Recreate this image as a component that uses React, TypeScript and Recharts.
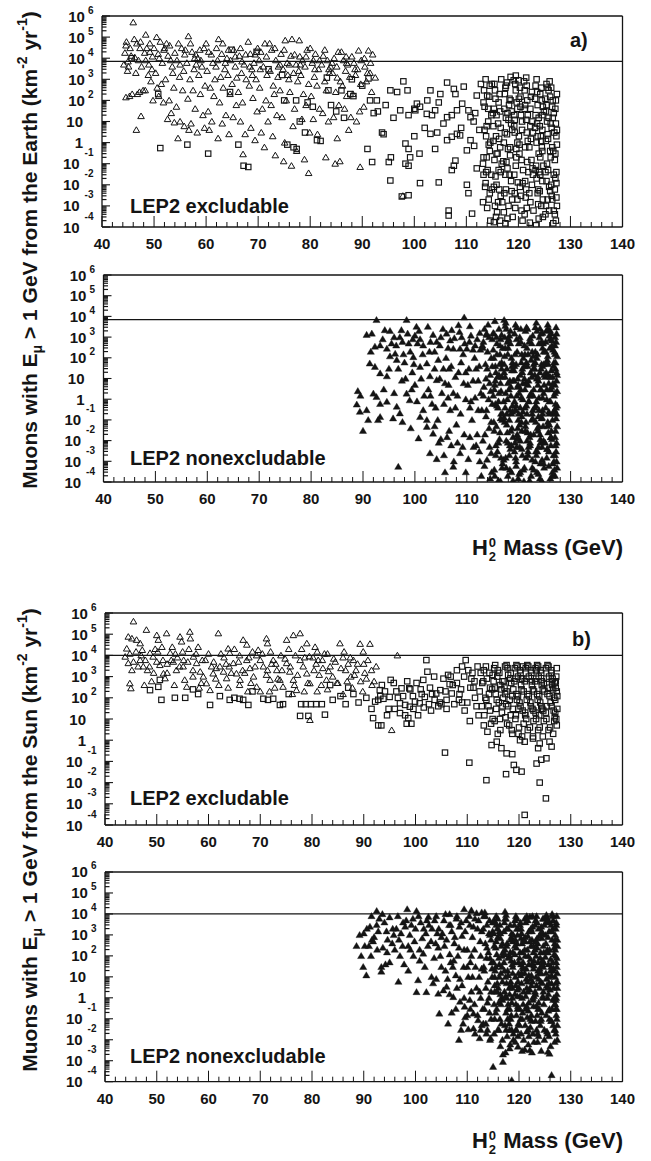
import React from 'react';
import { ScatterChart, Scatter, XAxis, YAxis, ReferenceLine } from 'recharts';

type Pt = [number, number];

const INK = '#141414';
const FONT = '"Liberation Sans", Arial, Helvetica, sans-serif';

const massTicks = [40,42,44,46,48,50,52,54,56,58,60,62,64,66,68,70,72,74,76,78,80,82,84,86,88,90,92,94,96,98,100,102,104,106,108,110,112,114,116,118,120,122,124,126,128,130,132,134,136,138,140];
const massLabels = [40,50,60,70,80,90,100,110,120,130,140];
const fluxDecades = [1e-4,1e-3,1e-2,1e-1,1,10,100,1e3,1e4,1e5,1e6];
const minorMantissas = [2,3,4,5,6,7,8,9];
const earthThreshold = 7e3;
const sunThreshold = 1e4;

// Panel a, upper: LEP2 excludable (Earth)
const earthExclTriangles: Pt[] = [
[46,5e5],[44.7,6e4],[44.6,4e4],[44.2,5e3],[45,7e3],[45.6,1.3e4],[44.9,2.5e3],[45.3,1.6e2],[44.6,1.4e2],[45.8,2e2],[45.1,4e3],
[46.7,5e4],[47.4,6e4],[46.3,1.1e4],[47,8e3],[47.6,4e3],[46.5,2e3],[47.2,2.5e2],[46.8,2e2],[47.5,1.8e1],[46.6,4e0],[48.4,1.3e5],[47.9,3e2],
[48.6,3e4],[49.2,2e4],[48.4,8e3],[49.6,3e3],[48.9,1.6e3],[49.4,8e2],[48.3,3e2],[49.8,1e2],[49,5e3],[49.7,1.2e4],
[50.5,1e5],[51.2,6e4],[50.8,1.6e4],[51.6,6e3],[50.3,2e3],[51.4,6e2],[50.9,1.6e2],[51.8,8e1],[50.6,4e2],[51.9,2.5e4],
[52.4,5e4],[53,4e4],[52.7,1.3e4],[53.5,4e3],[52.2,1e3],[53.8,4e2],[52.9,1e2],[53.3,2.5e1],[52.6,1.3e1],[53.9,9e0],[53.6,2e3],
[54.7,5e4],[55.3,3e4],[54.4,8e3],[55.7,2.5e3],[54.9,1.3e3],[55.5,3e2],[54.3,5e1],[55,1e1],[55.8,6e0],[54.6,1.6e0],[55.9,1.5e4],
[56.6,1.1e5],[57.3,2e4],[56.3,6e3],[57.7,3e3],[56.9,1e3],[57.5,3e2],[56.5,1.2e2],[57.9,4e1],[57.1,8e0],[56.7,4e0],[57.8,1e4],
[58.8,2.5e4],[59.6,3e4],[58.4,1e4],[59.2,4e3],[58.6,1.6e3],[59.8,5e2],[58.9,2e2],[59.4,2e1],[58.3,3e0],[59.7,5e0],[58.1,5e3],
[60.5,2e4],[61.3,6e3],[60.2,2.5e3],[61.7,1e3],[60.8,4e2],[61.5,1.6e2],[60.4,3e1],[61.1,1e1],[60.6,4e0],[61.9,4e3],
[62.4,8e4],[63,1.6e4],[62.2,8e3],[63.6,3e3],[62.8,1.3e3],[63.3,4e2],[62.6,8e1],[63.8,2e1],[63.1,8e0],[62.3,1.6e0],[63.7,6e3],
[64.3,2.5e4],[65.3,2.5e4],[64.7,8e3],[65.6,4e3],[64.2,1.6e3],[65,6e2],[64.6,2e2],[65.8,6e1],[65.2,1.6e1],[64.4,2.5e0],[65.9,1.2e3],
[66.4,1.3e4],[67.3,5e3],[66.8,2e3],[67.7,1e3],[66.2,2.5e2],[67,8e1],[66.6,1e1],[67.5,2.5e0],[67.1,2.8e-1],[68.1,6e4],[66.9,7e3],
[68.5,1.6e4],[69.2,6e3],[68.8,3e3],[69.6,1e3],[68.3,5e2],[69,1.3e2],[69.8,3e1],[68.6,5e0],[69.4,1.3e0],[69.9,3e4],[68.9,1.6e3],
[71.3,5e4],[70.5,2e4],[71,4e3],[71.7,1.6e3],[70.3,4e2],[71.5,1e2],[70.8,4e1],[71.9,1e1],[70.6,3e0],[71.2,6e-1],[70.2,8e3],
[72.6,2.5e4],[73.4,8e3],[72.3,2.5e3],[73.8,1.3e3],[72.9,5e2],[73.1,2e2],[72.5,6e1],[73.6,2e1],[72.8,2e0],[73.3,2.5e-1],[73.9,4e3],
[75.2,7e4],[74.4,1.6e4],[75.6,6e3],[74.8,3e3],[75.9,1e3],[74.2,3e2],[75.4,1e2],[74.6,1.6e1],[75.1,1e0],[74.9,1.3e-1],[75.7,1.6e3],
[76.5,8e4],[77.9,7e4],[76.3,1.3e4],[77.3,5e3],[76.8,2e3],[77.6,8e2],[76.1,2.5e2],[77,4e1],[76.7,6e0],[77.4,4e-1],[76.4,8e-2],[77.8,2.5e3],
[79.4,2.5e4],[78.5,8e3],[79,4e3],[78.2,1.6e3],[79.7,6e2],[78.7,2e2],[79.2,6e1],[78.4,1.3e1],[79.9,3e0],[78.9,1.6e-1],[79.7,3.6e-2],[78.1,5e3],
[81,1.6e4],[80.4,6e3],[81.6,3e3],[80.8,1.3e3],[81.3,5e2],[80.2,1.6e2],[81.8,4e1],[80.6,1.3e1],[81.4,2.5e0],[80.9,3e3],
[82.5,1.3e4],[83.3,8e3],[82.2,5e3],[83.7,2e3],[82.8,8e2],[83.1,3e2],[82.4,2.5e1],[83.5,1e1],[83,2e-1],[83.9,4e3],
[85.4,2e4],[84.6,1e4],[85.1,4e3],[84.3,2e3],[85.8,8e2],[84.9,2.5e2],[85.5,6e1],[84.5,1.6e1],[85.2,1.6e0],[84.8,1e-1],[85.7,1.3e-1],
[86.4,8e3],[87.2,5e3],[86.8,2.5e3],[87.6,1.3e3],[86.2,5e2],[87,1.6e2],[86.6,4e1],[87.8,1.6e1],[87.4,4e0],[86.9,1.2e4],
[89.3,2.3e4],[88.4,6e3],[89.1,3e3],[88.7,1.6e3],[89.7,6e2],[88.2,2e2],[89.5,3e1],[88.9,1e1],[89.6,7e-2],[88.6,3e3],
[91.2,2.3e4],[90.5,4e3],[91.5,2e3],[90.8,8e2],[91.8,2.5e2],[90.3,5e1],[91,2e3],[92.5,1.2e3],[97.8,3e-3],
[44.4,1.8e4],[45.4,3e4],[46.2,8e4],[47.3,3e4],[48.2,1.8e4],[49.2,5e4],[50,3e4],[51,1e4],[52,3e4],[53.2,8e3],[54,1.8e4],[55,5e3],[56,2.5e4],[57,5e4],[58,1.5e4],[59,8e3],[60,5e4],[61,1.5e4],[62,3e4],[63.2,5e4],[64,1e4],[65.6,1.2e4],[66.6,3e4],[67.6,1.5e4],[68.4,4e3],[69.4,1.5e4],[70.4,3e3],[71.6,1.2e4],[72.2,5e4],[73.2,3e4],[74.2,5e3],[75,2.5e4],[76,5e3],[77,1.5e4],[78,1.2e4],[79.2,1.2e4],[80,3e4],[80.6,8e3],[81.8,8e3],[82.8,2.5e4],[83.6,3e3],[84.2,6e3],[85.2,1.2e3],[86,2e4],[87,6e3],[88,1.2e4],[89.8,8e3],[90.4,1e4],[91.6,6e3],[92,1.5e4]
];

const earthExclSquares: Pt[] = [
[45.7,1e4],[50.8,2e2],[51.2,5.5e-1],[56.4,8e-1],[60.4,3e-1],[66.2,8e-1],[67.2,8e-2],[68.1,7e-2],[64.6,2.5e2],[64.9,2.5e4],[69.7,2e4],[72,3e3],[74.6,1.6e3],[75,1e2],[77.3,1e2],[79.5,8e1],[78,1e1],[79,3e0],[75.6,8e-1],[76.8,6e-1],[77.4,5e-1],[81.3,1.3e0],[82,1.2e0],[83.2,1.2e3],[87.7,2e2],[88.3,1.6e2],[85,3e1],[86.5,1.5e1],[80.5,5e1],[84,6e1],[88,1e3],[90,5e2],[91.5,1e2],[92.8,1e2],[92.2,2.5e1],[93.8,3e0],[94.1,2.5e0],[91,5e-1],[91.9,1.2e-1],[83.5,3e2],[86,3e2],
[91.2,1.1e3],[95.4,3e2],[96.7,2.5e2],[98.7,3e2],[97.9,8e2],[103.1,3e2],[106.3,7e2],[107.6,3.5e2],[107.9,2e2],[109.5,4.5e2],[112,1.7e2],[114,1.7e2],
[97.3,3.4e1],[98.9,2e1],[100.2,3.4e1],[101.1,5e1],[100.5,7e1],[102.4,2.3e1],[103.4,2e1],[104,3.4e1],[104.7,8e1],[105.6,8e0],[106.3,1.6e1],[107.2,2e1],[108.2,3.4e1],[109.2,7e1],[110.4,3.4e1],[110.8,1.6e1],[111.4,1e1],[111.7,2.5e1],
[103.1,2.6e0],[104.4,3e0],[106.3,1.3e0],[107.2,1.9e0],[108.2,2.6e0],[108.8,2.2e0],[110.1,4.3e-1],[110.8,1.3e0],[111.5,7e-1],
[98.3,9e-1],[98.9,5e-1],[99.2,2e-1],[98.3,1e-1],[98.9,8e-2],[95.1,1.2e-1],[95.5,2e-1],[95.4,1.6e-2],[101.1,1.2e-2],[97.6,2.8e-3],[98.9,3.2e-3],[104.7,1.3e-2],[106.6,6e-4],[106.6,3.5e-4],[111.1,4.3e-4],[110.1,1e-2],[110.4,4e-3],[107.2,5e-2],[107.6,8e-2],[107.9,1.4e-1],[112,6e-2],[113.3,3e-2],[100,2e0],[102,5e0],[96,1.5e1],[94.5,6e1],[93,3e1],[105,2e2],[102.5,1e2],[109,5e0],[112.5,4e0],[112.8,6e2],[104,5e-1],[101,3e-1],[100,4e1],
[114.6,2e-4],[115.3,1.7e-4],[114,8e-4],[114.3,2e-3],[113.5,5e1],[114.2,1e1],[113.8,2e0],[114.5,4e-1],[113.2,1e-1],[114.8,3e-2],[113.6,8e-3],[114.9,6e2],[114.4,1.5e2],
[115.5,3e2],[116.2,8e1],[115.8,2e1],[116.6,5e0],[115.2,1.2e0],[116,3e-1],[116.8,1e-1],[115.6,2.5e-2],[116.3,6e-3],[116.9,1.5e-3],[115.9,5e-4],[116.5,2e-4],[115.1,2.5e1],[116.7,1e3],
[117.8,7e2],[118.5,1.3e3],[117.4,2e2],[118.2,6e1],[117.6,1.5e1],[118.8,4e0],[117.2,1e0],[118.4,2.5e-1],[117.9,6e-2],[118.6,1.5e-2],[117.3,4e-3],[118.1,1e-3],[118.9,3e-4],[117.5,1.5e-4],[118.7,3e1],[117.1,1.3e-1],
[119.1,9e2],[120,9e2],[119.5,3e2],[120.4,1.5e2],[119.8,4e1],[120.7,1e1],[119.3,3e0],[120.2,8e-1],[119.6,2e-1],[120.9,5e-2],[119.9,1.3e-2],[120.5,3e-3],[119.4,8e-4],[120.8,2e-4],[120.1,1.2e2],[119.2,6e0],
[121.2,3e2],[121.7,1e2],[122.3,4e1],[121.5,1.2e1],[122.8,3e0],[121.3,6e-1],[122.5,1.5e-1],[121.9,4e-2],[122.6,1e-2],[121.4,2.5e-3],[122.9,6e-4],[122.2,1.6e-4],[121.8,2e1],[122.4,1.5e0],[121.1,8e2],
[123.3,5e2],[124.2,2e2],[123.7,6e1],[124.6,2e1],[123.2,5e0],[124.4,1.2e0],[123.9,3e-1],[124.8,8e-2],[123.5,2e-2],[124.1,5e-3],[123.8,1.2e-3],[124.7,3e-4],[123.4,1.2e-4],[124.9,3e1],[123.6,8e0],[124.3,2e0],[124,4e-2],[124.5,6e-1],
[126,8e2],[125.8,3e2],[126.1,1.5e2],[125.4,6e1],[126.8,2.5e1],[127.2,8e0],[125.6,2.5e0],[126.5,6e-1],[127,1.5e-1],[125.2,4e-2],[126.3,1e-2],[127.3,2.5e-3],[125.9,6e-4],[126.7,1.5e-4],[127.1,4e1],[125.5,1e1],[126.9,3e0],[127.4,8e-1],[126.2,2e-1],[125.7,5e-2],[127.3,1.2e-2],[126.4,3e-3],[125.3,1e-3],[127,4e-4],[126.6,1.5e1],[127.4,2e2],
[113.4,3e2],[114.2,4e1],[113.9,6e0],[114.6,1e0],[113.3,2e-1],[114.1,5e-2],[113.7,1.2e-2],[114.5,4e-3],[113.9,2e-1],
[115.4,6e2],[116.4,2e2],[115.3,4e1],[116.1,8e0],[115.7,2e0],[116.5,6e-1],[115.4,1.5e-1],[116.2,5e-2],[115.8,1e-2],[116.6,3e-3],[115.5,1e-3],
[117.5,4e2],[118.3,1.2e2],[117.9,2.5e1],[118.6,8e0],[117.4,3e0],[118,5e-1],[117.7,1.2e-1],[118.3,3e-2],[117.6,6e-3],[118.8,2e-3],[117.2,5e-4],
[119.4,6e2],[120.3,4e2],[119.7,8e1],[120.5,2e1],[119.3,1.2e1],[120.1,2e0],[119.6,5e-1],[120.6,1.5e-1],[119.2,3e-2],[120.3,8e-3],[119.8,2e-3],[120.6,6e-4],
[121.6,5e2],[122.4,1.5e2],[121.3,6e1],[122.7,1e1],[121.6,3e0],[122.1,6e-1],[121.7,1.2e-1],[122.8,3e-2],[121.5,6e-3],[122.3,1.5e-3],[121.2,4e-4],
[123.5,1e3],[124.4,4e2],[123.2,1.2e2],[124.7,5e1],[123.9,1.5e1],[124.6,4e0],[123.5,1e0],[124.2,2e-1],[123.3,5e-2],[124.6,1.5e-2],[123.7,4e-3],[124.4,1e-3],[123.9,2.5e-4],
[125.4,6e2],[126.3,4e2],[125.2,1.2e2],[126.5,5e1],[125.8,1.5e1],[126.4,5e0],[125.3,1.2e0],[126.1,4e-1],[125.5,1e-1],[126.8,3e-2],[125.9,8e-3],[126.5,2e-3],[125.2,4e-4],[127.2,1e2],[127.4,4e0],[127.1,3e-1],[127.3,4e-2],[127,6e-3],[127.4,1e-3],[127.2,2e-4],
[113.7,1e3],[114.5,5e2],[113.3,8e1],[114.8,2e1],[113.5,4e0],[114.3,8e-1],[113.8,4e-2],[114.9,6e-3],[113.2,1.5e-3],
[115.6,1.2e2],[116.5,3e1],[115.2,6e0],[116.3,1.5e0],[115.8,3e-1],[116.6,4e-2],[115.3,8e-3],[116.1,1.5e-3],[115.7,3e-4],
[117.6,5e2],[118.5,1e2],[117.3,4e1],[118.1,1.2e1],[117.8,2.5e0],[118.4,6e-1],[117.5,3e-2],[118.7,5e-3],[117.9,2.5e-4],
[119.5,1.5e3],[120.4,5e1],[119.2,2e1],[120.7,4e0],[119.8,1e0],[120.2,3e-1],[119.5,8e-2],[120.8,1.2e-2],[119.3,4e-3],
[121.5,1.2e3],[122.6,2.5e2],[121.2,4e1],[122.3,6e0],[121.8,1.2e0],[122.7,6e-2],[121.3,1.5e-2],[122.1,4e-3],[121.6,8e-4],
[123.6,2.5e2],[124.5,1e2],[123.3,2e1],[124.1,6e0],[123.7,2e0],[124.6,4e-1],[123.4,8e-2],[124.2,3e-2],[123.8,6e-3],[124.7,2e-3],
[125.6,4e2],[126.6,1e2],[125.3,3e1],[126.2,8e0],[125.7,1.5e0],[126.7,4e-1],[125.4,1.5e-2],[126.1,5e-3],[125.6,2e-3],[126.8,6e-4],[127.3,2e0],[127.1,2e-2]
];

// Panel a, lower: LEP2 nonexcludable (Earth)
const earthNonTriangles: Pt[] = [
[92.6,6.8e3],[98.4,6.8e3],[109.5,9e3],[117.2,6.8e3],[117.4,3.5e3],[124.1,2.6e3],[124.6,1.6e3],[126,2.2e3],[127,1e3],
[90.7,1.3e3],[91.7,1.5e3],[94.2,2.2e3],[97.1,1e3],[97.4,2.2e3],[100.3,3.2e3],[102.5,3.2e3],[106.1,1.5e3],[107.1,2.2e3],[108.4,3.8e3],[110.6,3.4e3],[112.5,1.6e3],[113.8,1.3e3],[115.1,1.6e3],[116.7,1.3e3],
[107.4,2.8e2],[108.7,2.8e2],[110,2.8e2],[111.2,2.5e2],[92.3,3.5e2],[93.3,4e2],[94.6,2.8e2],
[91.3,5.4e1],[92.3,3.7e1],[93.3,1.8e1],[94.6,1.3e1],[96.2,1.6e2],[96.5,8e1],[99.1,2e2],[99.7,1.1e2],[101,3.7e1],[102.3,5.4e1],[102.9,1.3e1],[104.2,8.5e0],
[92,1.9e0],[92.6,1.3e0],[93.3,6e-1],[94.6,7.6e-1],[96.5,4.4e-1],[97.1,2.1e-1],[88.8,5.6e-1],[89.4,2.5e-1],[90.7,3e-1],[91,1e-1],[90,3e-2],[93.3,1.4e-1],[92.9,1e-1],[98.4,1.9e0],[99,9e-1],[101,1.4e-1],[102.3,1e-1],[100.7,1.3e-2],[102.3,4.7e-2],[103.5,2.2e-2],[96.8,5.5e-4],[102.9,2.5e-3],[104.2,1.3e-3],[107.4,5.5e-4],[108.7,2.5e-3],[110.3,1.3e-3],[111.3,5e-3],
[95.5,5e2],[96,1e3],[98,6e1],[99.5,2e1],[100.5,5e2],[101.5,1.5e2],[103,6e2],[103.8,2e2],[104.5,8e1],[105,1e3],[105.5,3e1],[106,1e2],[106.5,5e0],[107,4e1],[107.8,1.2e1],[108.2,1.5e0],[108.9,6e1],[109.3,1.5e2],[109.8,2e1],[110.2,5e0],[110.8,8e-1],[111.5,1e2],[111.8,3e1],[112.2,8e0],[112.7,2e0],[112.9,3e-1],[105.2,2e0],[104,4e-1],[106.8,3e-1],[108,6e-2],[109.5,2e-2],[111,1e-1],[112,2e-2],[100,5e0],[101.8,1.5e0],[103.3,6e-1],[95,3e1],[97.5,8e0],[99.4,3e0],[94,3e0],[96,2e0],[97.8,1.5e2],[100,1.2e3],[101,8e2],[98.8,5e2],[103.5,1.3e3],[104.8,4e2],[106.8,7e2],[109,1e3],[110.5,6e2],[112,8e2],[113,4e2],[93.8,8e2],[95.2,1.2e2],[91.5,2e2],[89.5,1.5e0],[89,2.5e0],[104.6,8e-3],[106.2,1.5e-2],[107.5,1e-3],[109.8,3e-4],[105.8,3e-4],[112.5,1e-3],[112.8,2e-4],
[95.2,2e3],[96.4,4e2],[97.6,6e2],[98.6,1.5e3],[99.6,8e2],[100.8,2e3],[101.6,4e2],[102.8,2e2],[104.2,6e2],[105.4,2.5e3],[106.4,3e2],[107.6,9e2],[108.6,1.8e3],[109.6,5e2],[110.8,1.2e3],[111.6,4e2],[112.6,2.5e2],[96.8,3e1],[98.2,1e1],[99.8,5e1],[101.2,1e1],[102.6,3e0],[103.8,3e1],[104.8,1e1],[105.8,6e0],[106.6,3e1],[107.4,2e0],[108.4,2e1],[109.4,6e0],[110.4,3e1],[111.2,8e0],[112.4,4e1],[100.4,8e-1],[101.6,3e-1],[103,1.5e0],[104.4,1e-1],[105.6,6e-1],[106.4,1.2e0],[107.8,4e-1],[108.8,2e-1],[109.8,1e0],[110.6,4e-1],[111.6,1.2e0],[112.2,3e-1],[103.8,5e-2],[105,1.2e-2],[106.6,3e-2],[108.2,8e-3],[109.2,5e-3],[110.6,1.5e-2],[111.8,6e-3],[112.4,3e-3],[107,6e-3],[105.6,2e-3],[99.2,4e-2],[97.6,8e-2],[95.8,1.2e-1],
[113.2,6e2],[114,2e2],[113.6,5e1],[114.5,1.5e1],[113.3,4e0],[114.2,1e0],[113.8,3e-1],[114.7,8e-2],[113.5,2e-2],[114.4,5e-3],[113.9,1.2e-3],[114.8,3e-4],[114.1,4e3],[114.9,8e2],[113.7,1e1],[114.6,2.5e0],
[115.2,1.5e3],[115.8,5e2],[116.4,1.5e2],[115.5,4e1],[116.8,1.2e1],[115.3,3e0],[116.1,8e-1],[116.6,2e-1],[115.7,5e-2],[116.3,1.2e-2],[115.9,3e-3],[116.9,8e-4],[115.4,2e-4],[116.2,2.5e3],[116.7,6e1],[115.6,2e1],[116.5,6e0],[115.1,1.5e0],[116,4e-1],[116.8,1e-1],
[117.3,1e3],[118,3e2],[118.6,1e2],[117.7,3e1],[118.3,8e0],[117.5,2e0],[118.8,5e-1],[117.2,1.3e-1],[118.5,3e-2],[117.9,8e-3],[118.2,2e-3],[117.6,5e-4],[118.9,1.2e-4],[118.4,2e3],[117.8,6e2],[118.7,4e1],[117.4,1.2e1],[118.1,3e0],[117.1,8e-1],[118.6,2e-1],[117.7,6e-2],[118.9,1.5e-2],
[119.2,1.5e3],[120,5e2],[120.6,1.5e2],[119.5,5e1],[120.3,1.5e1],[119.8,4e0],[120.8,1e0],[119.3,3e-1],[120.5,8e-2],[119.7,2e-2],[120.2,5e-3],[119.4,1.5e-3],[120.9,4e-4],[119.9,1.5e-4],[120.4,2.5e3],[119.6,8e2],[120.7,3e1],[119.1,8e0],[120.1,2e0],[119.5,5e-1],[120.6,1.5e-1],[119.8,4e-2],[120.3,1e-2],[119.2,3e-3],
[121.3,2e3],[122,6e2],[122.6,2e2],[121.5,6e1],[122.3,2e1],[121.8,5e0],[122.8,1.5e0],[121.2,4e-1],[122.5,1e-1],[121.7,2.5e-2],[122.2,6e-3],[121.4,1.5e-3],[122.9,4e-4],[122.1,1.2e-4],[122.7,1.2e3],[121.6,3e2],[122.4,8e1],[121.1,1e1],[122.9,3e0],[121.9,8e-1],[122.6,2e-1],[121.3,5e-2],[122.1,1.5e-2],[121.8,3e-3],
[123.2,3e3],[124,1e3],[124.6,3e2],[123.5,1e2],[124.3,3e1],[123.8,8e0],[124.8,2e0],[123.3,5e-1],[124.5,1.3e-1],[123.7,3e-2],[124.2,8e-3],[123.4,2e-3],[124.9,5e-4],[124.1,1.5e-4],[124.7,5e2],[123.6,1.5e2],[124.4,5e1],[123.1,1.5e1],[124.9,5e0],[123.9,1.2e0],[124.6,3e-1],[123.3,8e-2],[124.1,2e-2],[123.8,5e-3],[124.5,1.2e-3],[123.5,3e-4],
[125.3,2e3],[126,8e2],[126.6,2.5e2],[125.5,8e1],[126.3,2.5e1],[125.8,6e0],[126.8,1.5e0],[125.2,4e-1],[126.5,1e-1],[125.7,2.5e-2],[126.2,6e-3],[125.4,1.5e-3],[126.9,4e-4],[126.1,1.5e-4],[127.2,3e3],[127,4e2],[127.4,1.2e2],[127.1,3e1],[127.3,8e0],[127,2e0],[127.4,5e-1],[127.2,1.2e-1],[127.1,3e-2],[127.3,8e-3],[127,2e-3],[127.4,5e-4],[125.9,1.2e3],[126.4,4e2],[125.6,1.2e2],[126.7,4e1],[125.1,1.2e1],[126.2,3e0],[125.9,8e-1],[126.8,2e-1],[125.5,5e-2],[126.4,1.2e-2],[125.8,3e-3],[126.6,8e-4],
[116.5,1.1e-4],[121,1.1e-4],[124.5,1.1e-4],
[113.4,2.5e3],[114.3,1e3],[113.1,3e2],[114.7,1e2],[113.9,3e1],[114.4,6e0],[113.2,1.5e0],[114.9,6e-1],[113.7,1.5e-1],[114.3,4e-2],[113.1,1e-2],[114.7,2.5e-3],[113.4,6e-4],[114.5,1.5e-4],[113.8,1.5e3],[114.9,4e1],
[115.4,6e3],[116.5,8e2],[115.1,2.5e2],[116.3,5e1],[115.9,1.2e1],[116.6,2.5e0],[115.5,6e-1],[116.9,2e-1],[115.2,8e-2],[116.4,2.5e-2],[115.6,6e-3],[116.6,1.5e-3],[115.3,4e-4],[116.1,1.2e-4],[116.9,3e2],[115.8,1.5e2],[116.2,1.5e1],[115.4,5e0],
[117.5,5e3],[118.2,1.2e3],[117.9,1.5e2],[118.8,6e1],[117.2,2e1],[118.5,4e0],[117.8,1e0],[118.3,3e-1],[117.3,8e-2],[118.7,4e-2],[117.6,1e-2],[118.4,4e-3],[117.1,1.2e-3],[118.6,3e-4],[117.9,2e-4],[118.1,8e2],[117.4,3e2],[118.9,8e0],[117.7,2e-1],[118.3,6e-3],
[119.4,4e3],[120.2,1e3],[119.7,2e2],[120.5,6e1],[119.1,2.5e1],[120.8,6e0],[119.6,1.5e0],[120.3,4e-1],[119.9,1e-1],[120.6,3e-2],[119.3,8e-3],[120.7,2e-3],[119.5,6e-4],[120.1,2.5e-4],[120.9,1e2],[119.8,1e1],[120.4,3e0],[119.2,8e-1],[120,2e-1],[119.6,5e-3],
[121.5,3e3],[122.2,9e2],[121.1,4e2],[122.8,1.2e2],[121.7,4e1],[122.5,1.2e1],[121.2,3e0],[122,8e-1],[122.7,3e-1],[121.4,8e-2],[122.3,2e-2],[121.9,5e-3],[122.6,1.2e-3],[121.1,5e-4],[122.4,2e-4],[121.8,1.5e2],[122.9,5e1],[121.3,6e0],[122.1,1.5e0],[121.6,1e-2],
[123.4,5e3],[124.3,1.5e3],[123.9,5e2],[124.8,2e2],[123.2,6e1],[124.1,2e1],[123.7,5e0],[124.6,1.2e0],[123.1,4e-1],[124.4,1.2e-1],[123.6,4e-2],[124.8,1e-2],[123.3,3e-3],[124.2,8e-4],[123.8,2.5e-4],[124.6,4e1],[123.5,1e1],[124.2,3e0],[123.9,3e-1],[124.7,5e-2],[123.2,1e-3],
[125.6,4e3],[126.3,1.5e3],[125.2,6e2],[126.9,2e2],[125.7,5e1],[126.5,1.2e1],[125.4,3e0],[126.1,8e-1],[126.9,3e-1],[125.6,8e-2],[126.3,3e-2],[125.1,8e-3],[126.7,2e-3],[125.8,6e-4],[126.5,2e-4],[127.3,1.5e3],[127.1,6e1],[127.4,1.5e1],[127,5e0],[127.2,4e-1],[127.4,5e-2],[127.1,6e-3],[127.3,1e-3],[127,2e-4],[126,3e2],[125.3,2e1],[126.6,6e0],[125.9,2e-1],[126.2,1.5e-2],[125.5,4e-3],
[115.7,1e3],[116.4,4e2],[115.2,1e2],[116.7,3e1],[115.5,8e0],[116.2,2e0],[115.8,5e-1],[116.5,1.2e-1],[115.3,3e-2],[116.1,8e-3],[115.6,2e-3],[116.8,5e-4],
[117.6,2.5e3],[118.4,5e2],[117.3,1.2e2],[118.7,2.5e1],[117.9,6e0],[118.5,1.5e0],[117.4,4e-1],[118.2,1e-1],[117.8,2.5e-2],[118.6,6e-3],[117.5,1.5e-3],[118.3,4e-4],[117.2,5e1],[118.8,2.5e-1],
[119.6,3e3],[120.4,6e2],[119.3,1.5e2],[120.7,2e1],[119.9,5e0],[120.5,1.2e0],[119.4,3e-1],[120.2,6e-2],[119.8,1.5e-2],[120.6,4e-3],[119.5,1e-3],[120.3,3e-4],[119.2,4e1],[120.8,2.5e-1],[119.7,1.2e-2],
[121.7,2.5e3],[122.5,5e2],[121.2,1.5e2],[122.8,3e1],[121.9,8e0],[122.4,2e0],[121.5,5e-1],[122.7,1.2e-1],[121.3,3e-2],[122.2,8e-3],[121.8,2e-3],[122.6,5e-4],[121.1,4e1],[122.9,2e-2],[121.6,2e-1],
[123.5,2e3],[124.4,6e2],[123.2,2e2],[124.8,5e1],[123.7,1.2e1],[124.3,3e0],[123.4,8e-1],[124.6,2e-1],[123.9,5e-2],[124.2,1.2e-2],[123.6,3e-3],[124.8,8e-4],[123.1,3e1],[124.5,5e-3],[123.8,1.5e-1],[124.9,1.5e1],
[125.6,2.5e3],[126.4,7e2],[125.2,2e2],[126.8,6e1],[125.7,1.5e1],[126.3,4e0],[125.4,1e0],[126.7,2.5e-1],[125.9,6e-2],[126.2,1.5e-2],[125.5,4e-3],[126.8,1e-3],[127.2,6e2],[127,1.5e2],[127.3,2e1],[127.4,2.5e0],[127.1,6e-1],[127.3,2e-1],[127,1.5e-2],[127.2,3e-3],[126.5,3e-4],[125.3,6e1],[126.1,1.2e1],[125.8,2.5e-1]
];

// Panel b, upper: LEP2 excludable (Sun)
const sunExclTriangles: Pt[] = [
[45.5,4e5],[44.5,7.6e4],[45.2,6.3e4],[46.1,5.4e4],[46.8,3.7e4],[48,1.6e5],[50,9e4],[50.3,5.4e4],[51.9,1.1e5],[54.5,7.6e4],[54.8,4.5e4],[56.4,1.3e5],[56.5,6.3e4],[61.9,1.1e5],[63.8,2.1e4],[64.1,1.3e4],[66.7,5.4e4],[67.4,3.2e4],[71.2,6.3e4],[71.4,3.7e4],[75.1,5.4e4],[76.4,9e4],[77.7,1.1e5],[79,3.7e4],[80.6,2.5e4],[69.6,1.8e4],[69.3,1e4],
[44.2,2.1e4],[43.9,8.7e3],[44.5,4.3e3],[45.2,2e3],[44.8,4.8e2],[45,2.8e2],[46.8,6e3],[47.4,3e3],[48.7,1.3e4],[49.3,8.7e3],[50,5e3],[50.6,3.5e3],[51.3,1.4e3],[51.6,8.3e2],[52.6,1.3e4],[53.2,5e3],[53.8,2e3],[55.1,3e3],[55.4,7e2],[55.8,3.3e2],[57.1,8.7e3],[57.7,4.3e3],[58.4,1.7e3],[59,1e3],[59.6,4.8e2],[60.3,2.3e2],[60.9,1.4e3],[62.2,3e3],[62.9,1.7e3],[63.5,8.3e2],[64.8,4.3e3],[65.4,1.4e3],[66.1,7e2],[67.4,6e3],[68,2.5e3],[68.7,1e3],[69.3,3.3e2],[70.6,3e3],[71.2,1.2e3],[71.9,7e2],[72.5,6e3],[73.2,2e3],[73.8,7e2],[74.4,3.3e2],[75.1,4.3e3],[75.7,1.7e3],[76.4,7e2],[77,2.3e2],[77.7,6e3],[78.3,3e3],[79,1.4e3],[79.6,4.8e2],[80.2,8e3],[80.8,4e3],[81.4,1.2e3],[82.1,2.5e3],[82.8,7e2],
[46,1.5e4],[47,1e4],[48.2,2e3],[49,6e2],[49.7,2e4],[51,2.5e4],[52,4e3],[53,2.5e4],[54,8e3],[55,1.5e4],[56,5e3],[57,2e3],[58,2.5e4],[58.8,6e3],[60,1.2e4],[61,5e3],[61.5,2.5e3],[63,8e3],[64,3e3],[65,2e4],[66,1e4],[67,1.5e3],[68.5,1.5e4],[70,6e3],[72,1.5e4],[73,4e3],[74,1e4],[75.5,2e4],[76.8,1e4],[78,2e4],[79.5,9e3],[81,1.5e4],[82,6e3],[83,1.2e4],[83.5,3e3],[84,1e3],[84.5,5e3],[85.4,3.7e4],[86,8e3],[86.5,2e3],[87,4e3],[87.5,1e3],[88,6e3],[88.5,2e3],[89.3,3.5e4],[89.9,1.5e4],[90,4e3],[90.5,8e2],[91.2,3.5e4],[91.5,2e3],[92,6e2],[96.5,1e4],[95.4,3e0],[79.6,9e0],[62,4e2],[66,4e2],[70,2e2],[72.8,3e2],[78.5,2e2],[85,5e2],[87.8,3e2],[83,2.5e2],
[44.8,1.2e4],[45.5,5e3],[46.4,3e3],[47.2,1.8e4],[47.8,6e3],[48.6,3e3],[49.4,1.5e3],[50.2,1.5e4],[51.2,6e3],[52,1.5e3],[52.8,6e3],[53.6,1.2e4],[54.4,3e3],[55.2,6e3],[56.2,2e4],[57,1e3],[57.6,1.2e4],[58.6,5e2],[59.4,6e3],[60.6,3e3],[61.4,8e2],[62.4,1.2e4],[63.4,4e3],[64.4,1.5e3],[65.8,5e3],[66.6,2e3],[67.8,8e3],[68.2,5e2],[69,3e3],[70.4,1.2e4],[71.4,2e3],[72.2,4e3],[73.4,8e2],[74.2,2e3],[74.8,7e3],[75.8,3e3],[76.6,4e2],[77.2,1.2e3],[78.6,8e3],[79.2,5e2],[80.4,2e3],[81.2,6e3],[81.8,4e2],[82.4,1.2e4],[83.2,1.8e3],[84.2,7e3],[84.8,5e2],[85.6,2.5e3],[86.2,1.5e4],[86.8,6e2],[87.4,8e3],[88.2,1.2e3],[88.8,4e3],[89.4,6e2],[90.2,1.5e3],[90.8,6e3],[91.6,4e2],[92.4,3e3],[47.6,4e2],[53.4,4e2],[58.2,3e2],[63.8,3e2],[67.6,2e2],[71.8,2e2],[76.2,1.5e2],[81,2e2],[86,1.5e2],[89.8,2e2]
];

const sunExclSquares: Pt[] = [
[48.7,2.3e2],[50.9,8e1],[53.5,1e2],[55.5,1e2],[50.6,7e2],[50.3,3.3e2],[60.3,4.6e1],[62.2,1.2e2],[64.1,8e1],[65,1e2],[66,9e1],[66.7,8e1],[67.7,4.6e1],[70.6,9e1],[71.5,8e1],[72.5,9e1],[73.8,4.6e1],[74.4,5e1],[77.7,1.4e1],[79.3,1.4e1],[77.9,5e1],[78.8,5e1],[79.8,5e1],[80.8,5e1],[81.9,5e1],[82.5,1.6e1],[57,2.5e2],[58,1.5e2],[68.5,2e2],[75.5,1.5e2],[84,8e1],[85.5,1.2e2],[86.5,5e1],[88,1.5e2],[89,6e1],[90.5,1e2],[91.5,3e1],[83.5,4e2],[87,3e2],
[102.1,6e3],[109.7,6e3],[102.3,1.7e3],[95.2,7e2],[98.4,6e2],[98.8,2.8e2],[101.5,7e2],[106.3,1.2e3],[106.6,4.4e2],[93.1,2.3e2],[94.1,2e2],[95,1.1e2],[96.3,2e2],[97.3,2.8e2],[92.2,6.6e1],[92.8,8e1],[93.8,9e1],[97,5.5e1],[98,4.6e1],[98.9,3.8e1],[99.9,6.6e1],[100.8,5.5e1],[101.8,1.1e2],[102.6,5e1],[103.7,8e1],[104.7,6e1],[104,1.6e2],[104.8,2.3e2],[105.8,2e2],[107,1.6e2],[97,1.9e1],[98,1.5e1],[98.6,1.1e1],[91.8,1.1e1],[92.8,5e0],[93.4,5e0],[98.3,6e0],[99.2,6e0],[105.7,2.6e-1],[110.4,8.7e-2],[113.7,1.3e-2],[108,5e2],[108.5,1.5e2],[109,6e1],[109.5,2.5e1],[110.2,2e3],[110.8,8e2],[111.2,3e2],[111.5,1e2],[111.8,4e1],[112.2,1.5e1],[112.6,1.5e3],[112.9,5e2],[107.5,5e1],[106,3e1],[103,2.5e1],[100.5,1.5e1],[101,2.5e2],[99.5,1.2e2],[96,3e1],[94.5,1.5e1],[110.5,8e0],[109,3e3],[108,2e3],
[93.5,4e2],[95.8,5e2],[97.6,1.2e2],[99,2.5e2],[100.2,5e2],[101.2,1.5e2],[102.8,3e2],[103.6,1e3],[104.4,4e1],[105.4,8e2],[106,8e1],[107.2,4e2],[108.4,8e1],[109.4,1e3],[110.6,3e2],[111.4,6e2],[112.4,2e2],[112.8,4e1],[110,6e1],[108.8,2.5e2],[106.8,1e3],[105,5e1],[103.2,1.5e2],[101.6,3.5e1],[99.6,3e1],[96.6,1e2],[94.8,3e1],[93.2,1.2e2],[111,1.5e3],[112,3e3],
[114.7,5.9e-1],[115.7,8.5e-1],[116.6,4.2e-1],[117.6,2.4e-1],[118.7,2.2e-1],[119,6.8e-2],[119.5,4e-2],[120.5,3.3e-2],[117.5,2.5e-2],[120.2,1e0],[121.1,8.5e-1],[122.7,1.2e0],[124,7e-1],[123.7,4.2e-1],[125.9,8.5e-1],[126.3,5e-1],[123.4,7.9e-2],[124.3,1.2e-1],[125.3,1.4e-1],[124,1e-2],[125.2,1.8e-3],[121.1,3e-4],
[113.2,2e3],[113.8,8e2],[114.4,3e2],[113.5,1e2],[114.1,4e1],[113.3,1.5e1],[114.6,6e0],[113.9,2.5e0],[114.9,1.2e3],[114.2,1.5e2],
[115.2,2.5e3],[115.8,1e3],[116.4,4e2],[115.5,1.5e2],[116.1,6e1],[116.7,2e1],[115.3,8e0],[116.4,3e0],[115.9,2e3],[116.8,6e2],[115.6,3e1],[116.9,1e2],
[117.3,3e3],[117.9,1.2e3],[118.5,5e2],[117.6,2e2],[118.2,8e1],[118.8,3e1],[117.4,1.2e1],[118.1,5e0],[118.7,2e0],[117.8,2.5e3],[118.4,1.5e3],[117.1,6e2],[118.9,2.5e2],[117.5,5e1],
[119.2,2.5e3],[119.8,1e3],[120.4,4e2],[119.5,1.5e2],[120.1,6e1],[120.7,2.5e1],[119.3,1e1],[120,4e0],[120.6,1.5e0],[119.7,3e3],[120.3,1.5e3],[119.1,6e2],[120.9,2e2],[119.6,8e1],[120.8,3e3],[119.9,3e1],
[121.3,2.5e3],[121.9,1e3],[122.5,4e2],[121.6,1.5e2],[122.2,6e1],[122.8,2.5e1],[121.4,1e1],[122.1,4e0],[122.7,1.5e0],[121.8,3e3],[122.4,1.5e3],[121.1,6e2],[122.9,2e2],[121.5,8e1],[122.6,3e1],[121.2,1.5e1],
[123.2,2.5e3],[123.8,1e3],[124.4,4e2],[123.5,1.5e2],[124.1,6e1],[124.7,2.5e1],[123.3,1e1],[124,4e0],[124.6,1.5e0],[123.7,3e3],[124.3,1.5e3],[123.1,6e2],[124.9,2e2],[123.6,8e1],[124.5,3e1],[123.9,1.5e1],[124.8,5e2],[123.4,2e3],
[125.2,2.5e3],[125.8,1e3],[126.4,4e2],[125.5,1.5e2],[126.1,6e1],[126.7,2.5e1],[125.3,1e1],[126,4e0],[126.6,2e0],[125.7,3e3],[126.3,1.5e3],[127.1,6e2],[127.3,2e2],[127,8e1],[127.4,3e1],[126.9,1.2e1],[127.2,1e3],[126.5,8e2],[125.9,3e2],[126.8,1e2],[125.4,4e1],[127.3,5e0],
[113.6,3e3],[114.3,1.5e3],[113.1,6e2],[114.8,2.5e2],[113.7,8e1],[114.4,2.5e1],[113.2,5e0],[114.9,1e1],
[115.4,3.5e3],[116.2,1.5e3],[115.1,6e2],[116.6,2.5e2],[115.7,8e1],[116.3,1e1],[115.9,2e0],[116.8,4e1],[115.3,3e2],
[117.6,3.5e3],[118.3,8e2],[117.2,3e2],[118.7,1.2e2],[117.9,4e1],[118.4,1.5e1],[117.7,6e0],[118.6,3e0],[117.3,1.5e2],
[119.5,3.5e3],[120.2,2e3],[119.3,8e2],[120.5,2.5e2],[119.8,1.2e2],[120.3,4e1],[119.4,1.5e1],[120.9,6e0],[119.9,2e0],[120.6,8e2],
[121.6,3.5e3],[122.3,2e3],[121.4,8e2],[122.7,2.5e2],[121.9,1.2e2],[122.3,4e1],[121.2,2e1],[122.8,8e0],[121.7,3e0],[122.5,6e2],
[123.5,3.5e3],[124.2,2e3],[123.3,8e2],[124.6,2.5e2],[123.9,1.2e2],[124.3,4e1],[123.2,2e1],[124.8,8e0],[123.7,3e0],[124.4,6e2],
[125.5,3.5e3],[126.2,2e3],[125.3,8e2],[126.6,2.5e2],[125.9,1.2e2],[126.3,4e1],[125.2,2e1],[126.8,8e0],[125.7,3e0],[126.4,6e2],[127.3,2.5e3],[127.1,3e2],[127.4,1.2e2],[127,2e1],[127.2,1e1],[126.9,5e2]
];

// Panel b, lower: LEP2 nonexcludable (Sun)
const sunNonTriangles: Pt[] = [
[92.5,1.4e4],[91.5,8e3],[98.4,1.7e4],[100.2,1.4e4],[102.5,7.4e3],[103.7,5e3],[106.6,1e4],[107.9,6e3],[109.4,1.7e4],[110.8,1.5e4],[111.8,1.1e4],[117.3,1.3e4],[122.1,7.4e3],[125.3,9e3],[126.6,5e3],
[88.6,3e2],[89.9,3e1],[90.5,1.2e1],[93.4,3e1],[93.4,1.8e1],[96.7,5.9e0],[100.5,7e0],[100.2,1.9e0],[102.1,1.9e0],[104.4,1.6e0],[104.6,1.8e-1],[106.3,6e-2],[108.4,1e-2],[112.4,1.2e-2],[110.2,3.2e-2],[111.2,3.5e-2],[115,5.2e-4],[116.9,9e-4],[118.2,3.9e-3],[119.8,4.7e-3],[121.1,3.5e-3],[122.1,3.2e-3],[125.6,2.7e-3],[125.9,2.2e-3],[118.6,1.2e-4],[126.3,2.1e-4],
[91.2,2.5e3],[92.5,3e3],[94.4,1.5e3],[96.3,2e3],[97.6,4e3],[98.9,1e3],[91,3e2],[91.8,5e2],[93.7,2.5e2],[95.5,4e2],[97.5,3e2],[99,2e2],[100,2e3],[101.3,7e2],[102.6,3e3],[103.9,4e2],[105.2,1.2e3],[106.5,3e3],[100.8,6e1],[101.5,1.3e2],[103.1,1e1],[103.4,5e0],[105.4,2.3e0],[106,3.4e0],[107.3,1.1e0],[108.6,6.6e-1],[109.5,3.8e-1],[110.5,8e-1],[111.2,1.8e-1],[112.1,8.7e-2],[113.1,6e-2],[113.7,2e-2],[114.4,1e-2],
[90,1.2e3],[92,8e2],[93,6e3],[94,4e3],[95,7e3],[95.8,1e3],[96.8,6e2],[98,2.5e3],[99.5,6e3],[99.8,5e2],[101,4e3],[102,1.2e3],[104,8e3],[104.5,2e3],[105.5,5e3],[106,6e2],[107,1.5e3],[107.5,4e2],[108,8e3],[108.5,2.5e3],[109,9e2],[109.8,5e3],[110,2e2],[110.5,3e3],[111,8e2],[111.5,6e3],[112,2e3],[112.5,5e2],[112.8,1.2e4],[108.2,1e2],[109.3,3e1],[110.8,1e2],[111.6,3e1],[112.3,1e1],[106.8,5e1],[105.8,2e1],[104.8,1e2],[103,5e2],[97,1e2],[95,5e1],[94.5,1.5e2],[107.8,1.2e1],[109,4e0],[110.2,1e1],[111.8,3e0],[112.6,1e0],[113,3e-1],[110,1.5e-1],[108.8,3e-2],[107,2e-1],[109.6,1.2e-1],[111.5,2e-2],[112.8,5e-2],[105,3e1],
[90.6,2e3],[91.6,6e2],[92.8,1.5e3],[93.6,1e4],[94.6,6e2],[95.6,2e3],[96.6,8e3],[97.2,1.2e3],[98.2,5e3],[99.2,3e3],[100.6,8e3],[101.6,2e3],[102.2,5e3],[103.2,2e3],[104.2,1.2e3],[105,8e2],[105.8,1e4],[106.8,3e3],[107.6,8e2],[108.8,4e3],[109.6,1.5e3],[110.4,8e3],[111.2,2.5e3],[112.2,5e3],[112.8,1.5e3],[91.4,1e2],[92.6,2e2],[94.2,4e1],[96,2e2],[97.8,4e1],[98.6,3e2],[99.6,1e2],[100.8,2e2],[102.4,3e2],[103.6,8e1],[104.4,2.5e2],[105.6,3e2],[106.6,1.2e2],[107.4,6e1],[108.4,2.5e2],[109.4,2e2],[110.6,5e1],[111.4,2e2],[112.6,1e2],[98.6,2e1],[101.8,3e1],[104,8e0],[106.2,8e0],[107.2,3e1],[108.6,8e0],[110,3e1],[111,1e1],[112.8,2.5e1],[106.6,1.5e0],[108,3e0],[109.4,1e0],[110.8,2e0],[111.4,5e-1],[112.4,2e0],[107.8,3e-1],[109.2,6e-2],[110.6,3e-1],[112,1.5e-1],[112.6,3e-2],[89.5,1e2],[90.2,3e2],[89.2,1e3],
[113.2,8e3],[113.8,3e3],[114.4,1e3],[113.5,4e2],[114.1,1.5e2],[114.7,5e1],[113.3,2e1],[114,6e0],[114.6,2e0],[113.9,6e-1],[114.3,2e-1],[113.6,6e-2],[114.9,4e3],[114.2,1.2e3],[113.7,8e1],[114.8,2.5e1],
[115.2,5e3],[115.8,2e3],[116.4,7e2],[115.5,2.5e2],[116.1,8e1],[116.7,3e1],[115.3,1e1],[116,3e0],[116.6,1e0],[115.7,3e-1],[116.3,1e-1],[115.9,3e-2],[116.8,1e-2],[115.4,4e3],[116.2,1.5e3],[115.6,5e2],[116.9,1.5e2],[115.1,5e1],[116.5,1.5e1],[115.8,5e0],[116.4,1.5e0],[115.2,5e-1],
[117.3,6e3],[117.9,2e3],[118.5,8e2],[117.6,3e2],[118.2,1e2],[118.8,3e1],[117.4,1e1],[118.1,3e0],[118.7,1e0],[117.8,3e-1],[118.4,1e-1],[117.5,3e-2],[118.9,1e-2],[117.2,4e3],[118.6,1.2e3],[117.7,4e2],[118.3,1.5e2],[117.1,5e1],[118.8,1.5e1],[117.6,5e0],[118.2,1.5e0],[117.9,5e-1],[118.5,1.5e-1],[117.3,5e-2],[118.9,2e-2],
[119.2,5e3],[119.8,2e3],[120.4,7e2],[119.5,2.5e2],[120.1,8e1],[120.7,3e1],[119.3,1e1],[120,3e0],[120.6,1e0],[119.7,3e-1],[120.3,1e-1],[119.4,3e-2],[120.9,1e-2],[119.1,3e3],[120.5,1.2e3],[119.6,4e2],[120.2,1.5e2],[120.8,5e1],[119.9,1.5e1],[120.5,5e0],[119.2,1.5e0],[120.8,5e-1],[119.5,1.5e-1],[120.1,5e-2],[119.8,1.5e-2],
[121.3,4e3],[121.9,1.5e3],[122.5,6e2],[121.6,2e2],[122.2,7e1],[122.8,2.5e1],[121.4,8e0],[122.1,2.5e0],[122.7,8e-1],[121.8,2.5e-1],[122.4,8e-2],[121.5,2.5e-2],[122.9,8e-3],[121.1,6e3],[122.6,2.5e3],[121.7,9e2],[122.3,3e2],[121.2,1e2],[122.9,3.5e1],[121.9,1.2e1],[122.4,4e0],[121.3,1.2e0],[122.8,4e-1],[121.6,1.2e-1],[122.2,4e-2],[121.9,1.5e-2],
[123.2,5e3],[123.8,2e3],[124.4,7e2],[123.5,2.5e2],[124.1,8e1],[124.7,3e1],[123.3,1e1],[124,3e0],[124.6,1e0],[123.7,3e-1],[124.3,1e-1],[123.4,3e-2],[124.9,1e-2],[123.1,3e3],[124.5,1.2e3],[123.6,4e2],[124.2,1.5e2],[124.8,5e1],[123.9,1.5e1],[124.5,5e0],[123.2,1.5e0],[124.8,5e-1],[123.5,1.5e-1],[124.1,5e-2],[123.8,1.5e-2],[124.6,6e3],
[125.2,4e3],[125.8,1.5e3],[126.4,6e2],[125.5,2e2],[126.1,7e1],[126.7,2.5e1],[125.3,8e0],[126,2.5e0],[126.6,8e-1],[125.7,2.5e-1],[126.3,8e-2],[125.4,2.5e-2],[126.9,8e-3],[127.2,3e3],[127,1e3],[127.4,3e2],[127.1,1e2],[127.3,3e1],[127,1e1],[127.4,3e0],[127.2,1e0],[127.1,3e-1],[127.3,1e-1],[127,3e-2],[127.4,1e-2],[125.9,4e3],[126.5,2e3],[125.6,8e2],[126.8,2.5e2],[125.1,9e1],[126.2,3e1],[125.8,1e1],[126.7,3e0],[125.5,1e0],[126.4,3e-1],[125.9,1e-1],[126.8,3e-2],
[113.4,1.2e4],[114.3,5e3],[113.1,2e3],[114.6,6e2],[113.8,2.5e2],[114.4,8e1],[113.2,3e1],[114.8,1e1],[113.6,3e0],[114.2,1e0],[113.3,3e-1],[114.6,1e-1],[113.9,3e-2],[114.5,1.2e-2],[113.5,8e3],[114.9,1.5e3],
[115.6,8e3],[116.3,3e3],[115.1,1.2e3],[116.8,4e2],[115.7,1.2e2],[116.2,4e1],[115.4,2e1],[116.8,6e0],[115.3,2e0],[116.1,6e-1],[115.5,2e-1],[116.6,6e-2],[115.2,2e-2],[116.4,5e-3],[116.9,2e-3],[115.9,8e2],[116.6,3e2],[115.3,4e0],
[117.5,9e3],[118.3,3e3],[117.1,1.5e3],[118.8,5e2],[117.3,2e2],[118.5,6e1],[117.8,2e1],[118.4,6e0],[117.2,2e0],[118.6,6e-1],[117.5,2e-1],[118.1,6e-2],[117.7,1.5e-2],[118.3,6e-3],[117.4,2.5e-3],[118.9,1e3],[117.9,8e1],[118.7,3e0],[117.6,1e0],[118.2,3e-2],
[119.4,8e3],[120.2,3e3],[119.7,1e3],[120.6,4e2],[119.2,1.2e2],[120.4,4e1],[119.8,6e0],[120.9,2e0],[119.4,5e-1],[120.7,2e-1],[119.9,6e-2],[120.4,2e-2],[119.3,8e-3],[120.6,3e-3],[119.6,2e3],[120.9,6e2],[119.1,5e1],[120.3,1.2e1],[119.7,1.2e0],[120.1,3e-1],
[121.5,8e3],[122.3,2e3],[121.2,8e2],[122.8,3e2],[121.8,1e2],[122.5,4e1],[121.1,1.5e1],[122.6,6e0],[121.7,2e0],[122.9,1.2e0],[121.5,4e-1],[122.4,1.5e-1],[121.2,5e-2],[122.7,2e-2],[121.8,6e-3],[122.1,5e2],[121.4,2.5e1],[122.2,8e0],[121.9,6e-1],[122.5,2.5e-3],
[123.4,8e3],[124.3,2.5e3],[123.9,9e2],[124.7,3e2],[123.3,1e2],[124.5,4e1],[123.7,2e1],[124.2,6e0],[123.1,2e0],[124.7,2e0],[123.8,6e-1],[124.4,2e-1],[123.2,8e-2],[124.9,3e-2],[123.6,8e-3],[124.3,3e-3],[124.9,3e3],[123.5,7e2],[124,2.5e1],[123.4,4e-1],
[125.4,7e3],[126.2,3e3],[125.1,1e3],[126.9,4e2],[125.6,1.5e2],[126.5,5e1],[125.2,1.5e1],[126.3,5e0],[125.7,1.5e0],[126.9,5e-1],[125.3,1.5e-1],[126.6,5e-2],[125.8,1.5e-2],[126.1,5e-3],[127.3,8e3],[127.1,2e3],[127.4,6e2],[127,2e2],[127.2,5e1],[127.4,1.5e1],[127.1,5e0],[127.3,1.5e0],[127,5e-1],[127.2,1.5e-1],[127.4,5e-2],[127.1,2e-2],[126.4,1e4],[125.9,2e2],[126.6,2e1],[125.4,4e0],
[115.6,3e3],[116.4,1.2e3],[115.2,3e2],[116.7,1e2],[115.5,3e1],[116.2,1e1],[115.8,2e0],[116.5,5e-1],[115.3,1e-1],[116.1,3e-2],[115.9,6e3],[116.8,8e-1],
[117.6,2e3],[118.4,6e2],[117.3,1.2e2],[118.7,4e1],[117.9,1.2e1],[118.5,4e0],[117.4,1.2e0],[118.2,3e-1],[117.8,1e-1],[118.6,3e-2],[117.5,6e3],[118.8,1.5e2],[117.2,2e1],
[119.6,6e3],[120.4,2e3],[119.3,6e2],[120.7,1.5e2],[119.9,5e1],[120.5,1.5e1],[119.4,4e0],[120.2,1.2e0],[119.8,4e-1],[120.6,1e-1],[119.5,3e-2],[120.3,4e3],[119.2,3e2],[120.8,2.5e1],[119.7,2.5e0],
[121.7,5e3],[122.5,1.5e3],[121.2,5e2],[122.8,1.5e2],[121.9,4e1],[122.4,1.2e1],[121.5,3e0],[122.7,1e0],[121.3,3e-1],[122.2,1e-1],[121.8,3e-2],[122.6,8e3],[121.1,2e2],[122.9,6e1],[121.6,6e0],
[123.5,4e3],[124.4,1.5e3],[123.2,5e2],[124.8,1.5e2],[123.7,5e1],[124.3,1.5e1],[123.4,4e0],[124.6,1.2e0],[123.9,3e-1],[124.2,8e-2],[123.6,2e-2],[124.8,6e3],[123.1,2e2],[124.5,6e1],[123.8,8e0],
[125.6,5e3],[126.4,1.5e3],[125.2,4e2],[126.8,1.2e2],[125.7,4e1],[126.3,1.2e1],[125.4,3e0],[126.7,1e0],[125.9,3e-1],[126.2,8e-2],[125.5,2e-2],[127.2,4e3],[127,6e2],[127.3,8e1],[127.4,6e0],[127.1,8e-1],[127.3,3e-1],[126.5,8e3],[125.3,1.5e2],[126.1,2e1],[125.8,5e0]
];

const yTicks = [...fluxDecades, ...fluxDecades.slice(0, -1).flatMap((d) => minorMantissas.map((k) => k * d))];
const toRows = (pts: Pt[]) => pts.map(([x, y]) => ({ x, y }));

const OpenTriangle = (p: any) => {
  const { cx, cy } = p;
  if (cx == null || cy == null) return null;
  return <path d={`M${cx},${cy - 3.1} L${cx + 3.3},${cy + 2.5} L${cx - 3.3},${cy + 2.5} Z`} fill="none" stroke={INK} strokeWidth={1} />;
};
const OpenSquare = (p: any) => {
  const { cx, cy } = p;
  if (cx == null || cy == null) return null;
  return <rect x={cx - 2.7} y={cy - 2.7} width={5.4} height={5.4} fill="none" stroke={INK} strokeWidth={1.15} />;
};
const FilledTriangle = (p: any) => {
  const { cx, cy } = p;
  if (cx == null || cy == null) return null;
  return <path d={`M${cx},${cy - 3.4} L${cx + 3.6},${cy + 2.7} L${cx - 3.6},${cy + 2.7} Z`} fill={INK} stroke={INK} strokeWidth={0.4} />;
};

const XTick = (p: any) => {
  const { x, y, payload } = p;
  const v = payload.value;
  const major = massLabels.includes(v);
  return (
    <g>
      <line x1={x} x2={x} y1={y} y2={y - (major ? 11 : 5)} stroke={INK} strokeWidth={1} />
      {major && (
        <text x={x} y={y + 22} textAnchor="middle" fontFamily={FONT} fontWeight="bold" fontSize={15} fill={INK}>{v}</text>
      )}
    </g>
  );
};

const YTick = (p: any) => {
  const { x, y, payload } = p;
  const v = payload.value;
  const major = fluxDecades.includes(v);
  const e = Math.round(Math.log10(v));
  let label: React.ReactNode = null;
  if (major) {
    if (e === 0 || e === 1) {
      label = <text x={x - 19} y={y + 5.5} textAnchor="end" fontFamily={FONT} fontWeight="bold" fontSize={15} fill={INK}>{e === 0 ? '1' : '10'}</text>;
    } else {
      label = (
        <text x={x - 8.5} y={y + 5.5} textAnchor="end" fontFamily={FONT} fontWeight="bold" fontSize={15} fill={INK}>
          10
          <tspan dx={e < 0 ? 5 : 3} dy={e < 0 ? -13 : -8} fontSize={10}>{String(e)}</tspan>
        </text>
      );
    }
  }
  return (
    <g>
      <line x1={x} x2={x + (major ? 8 : 4.5)} y1={y} y2={y} stroke={INK} strokeWidth={major ? 1.1 : 1.2} />
      {label}
    </g>
  );
};

type SeriesDef = { pts: Pt[]; shape: (p: any) => any };

const PAD_TOP = 22;

function Panel({ top, bottom, left, right, threshold, series }: { top: number; bottom: number; left: number; right: number; threshold: number; series: SeriesDef[] }) {
  const H = bottom - top + PAD_TOP + 40;
  const frame = { stroke: INK, strokeWidth: 1.3 };
  return (
    <div style={{ position: 'absolute', left: 0, top: top - PAD_TOP, width: 651, height: H }}>
      <ScatterChart width={651} height={H} margin={{ top: PAD_TOP, right: 651 - right, bottom: 0, left: 0 }}>
        <XAxis type="number" dataKey="x" domain={[40, 140]} ticks={massTicks} interval={0} allowDataOverflow
          tickLine={false} tickSize={0} tickMargin={0} tick={(tp: any) => <XTick {...tp} />} axisLine={frame} height={40} />
        <YAxis type="number" dataKey="y" scale="log" domain={[1e-4, 1e6]} ticks={yTicks} interval={0} allowDataOverflow
          tickLine={false} tickSize={0} tickMargin={0} tick={(tp: any) => <YTick {...tp} />} axisLine={frame} width={left} />
        <ReferenceLine y={1e6} stroke={INK} strokeWidth={1.3} />
        <ReferenceLine x={140} stroke={INK} strokeWidth={1.3} />
        <ReferenceLine y={threshold} stroke={INK} strokeWidth={1.3} />
        {series.map((s, i) => (
          <Scatter key={i} data={toRows(s.pts)} shape={s.shape} isAnimationActive={false} />
        ))}
      </ScatterChart>
    </div>
  );
}

const bold = { fontFamily: FONT, fontWeight: 'bold' as const, fill: INK };

function YTitle({ cy, body }: { cy: number; body: string }) {
  return (
    <text transform={`translate(37,${cy}) rotate(-90)`} textAnchor="middle" fontSize={21} {...bold}>
      Muons with E<tspan fontSize={14} dy={5}>μ</tspan>
      <tspan dy={-5}>{` > 1 GeV from the ${body} (km`}</tspan>
      <tspan fontSize={14} dy={-10}>-2</tspan>
      <tspan dy={10}> yr</tspan>
      <tspan fontSize={14} dy={-10}>-1</tspan>
      <tspan dy={10}>)</tspan>
    </text>
  );
}

function MassTitle({ y }: { y: number }) {
  return (
    <text x={623} y={y} textAnchor="end" fontSize={22} {...bold}>
      H<tspan fontSize={13} dx={1} dy={-8}>0</tspan>
      <tspan fontSize={13} dx={-7.2} dy={14}>2</tspan>
      <tspan dx={1} dy={-6}> Mass (GeV)</tspan>
    </text>
  );
}

export default function App() {
  return (
    <div style={{ position: 'absolute', left: 0, top: 0, width: 651, height: 1161, background: '#fff', overflow: 'hidden' }}>
      <Panel top={15.7} bottom={226.7} left={102} right={622.5} threshold={earthThreshold}
        series={[{ pts: earthExclTriangles, shape: OpenTriangle }, { pts: earthExclSquares, shape: OpenSquare }]} />
      <Panel top={275} bottom={482} left={103.5} right={622.5} threshold={earthThreshold}
        series={[{ pts: earthNonTriangles, shape: FilledTriangle }]} />
      <Panel top={613} bottom={825} left={105} right={622.5} threshold={sunThreshold}
        series={[{ pts: sunExclTriangles, shape: OpenTriangle }, { pts: sunExclSquares, shape: OpenSquare }]} />
      <Panel top={872} bottom={1081.7} left={105} right={622.5} threshold={sunThreshold}
        series={[{ pts: sunNonTriangles, shape: FilledTriangle }]} />
      <svg width={651} height={1161} style={{ position: 'absolute', left: 0, top: 0, pointerEvents: 'none' }}>
        <YTitle cy={250} body="Earth" />
        <YTitle cy={840} body="Sun" />
        <text x={130} y={213} fontSize={20} {...bold}>LEP2 excludable</text>
        <text x={130} y={465} fontSize={20} {...bold}>LEP2 nonexcludable</text>
        <text x={130} y={805} fontSize={20} {...bold}>LEP2 excludable</text>
        <text x={130} y={1063} fontSize={20} {...bold}>LEP2 nonexcludable</text>
        <text x={570} y={47} fontSize={20} {...bold}>a)</text>
        <text x={572} y={646} fontSize={20} {...bold}>b)</text>
        <MassTitle y={555} />
        <MassTitle y={1148} />
      </svg>
    </div>
  );
}
